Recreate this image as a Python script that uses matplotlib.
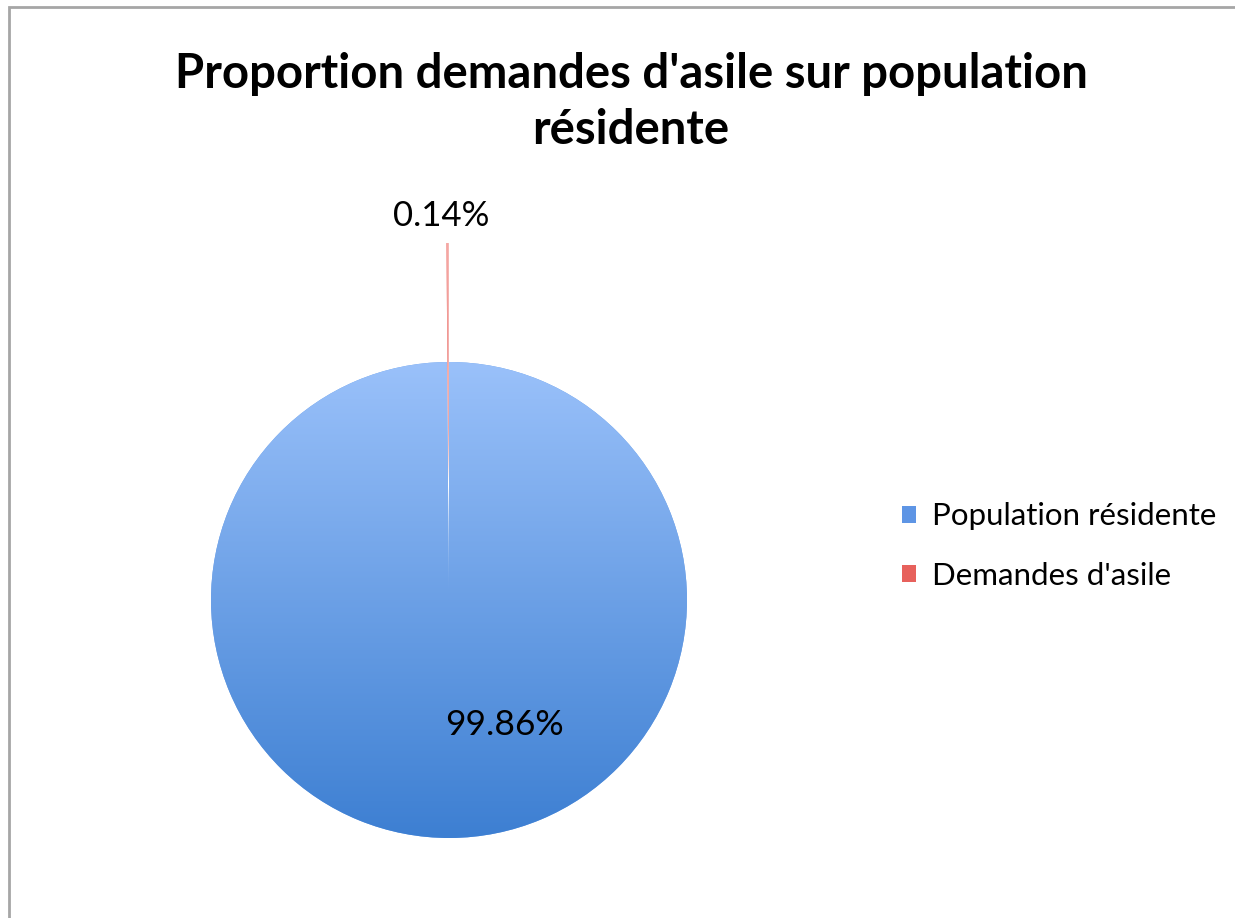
import numpy as np
import matplotlib.pyplot as plt
from matplotlib.colors import LinearSegmentedColormap
from matplotlib.patches import Rectangle

plt.rcParams['font.family'] = ['Lato', 'DejaVu Sans']

labels = ['Population résidente', "Demandes d'asile"]
shares = [99.86, 0.14]
pct_labels = ['99.86%', '0.14%']
title = "Proportion demandes d'asile sur population\nrésidente"

W, H = 1235, 918
fig = plt.figure(figsize=[W / 100, H / 100], dpi=100)

# pie centre and radius in pixels
cx, cy, r = 449, 600, 238
xlo, xhi, ylo, yhi = -1.2, 1.2, -1.2, 1.75
ax = fig.add_axes([(cx + xlo * r) / W, (H - cy + ylo * r) / H,
                   (xhi - xlo) * r / W, (yhi - ylo) * r / H])

wedges, _ = ax.pie(shares, startangle=90, counterclock=False,
                   explode=[0, 0.5], colors=['#6a9fe8', '#ee8a86'],
                   wedgeprops=dict(linewidth=0))
ax.set_xlim(xlo, xhi)
ax.set_ylim(ylo, yhi)
ax.set_aspect('equal')
ax.axis('off')

# vertical gradient in the blue slice
blues = LinearSegmentedColormap.from_list('b', ['#3d7fd2', '#9ac1fa'])
grad = np.linspace(0, 1, 256).reshape(-1, 1)
im = ax.imshow(grad, cmap=blues, origin='lower', extent=[-1, 1, -1, 1],
               aspect='auto', zorder=2)
im.set_clip_path(wedges[0])
reds = LinearSegmentedColormap.from_list('r', ['#e0524c', '#f6a8a4'])
im2 = ax.imshow(grad, cmap=reds, origin='lower', extent=[-1, 1, -0.5, 1.5],
                aspect='auto', zorder=2)
im2.set_clip_path(wedges[1])
ax.set_xlim(xlo, xhi)
ax.set_ylim(ylo, yhi)

ax.text(0.235, -0.525, pct_labels[0], fontsize=25.5, ha='center', va='center', zorder=5)
ax.text(-0.034, 1.615, pct_labels[1], fontsize=25, ha='center', va='center', zorder=5)

fig.text(631 / W, 1 - 102 / H, title, fontsize=34, fontweight='bold',
         ha='center', va='center', linespacing=1.32)

leg = fig.legend(wedges, labels, loc='center left',
                 bbox_to_anchor=(874 / W, 1 - 546 / H), frameon=False,
                 fontsize=22.5, handlelength=0.45, handleheight=0.45,
                 handletextpad=0.5, labelspacing=1.0)
leg.legend_handles[0].set_color('#5e95e5')
leg.legend_handles[1].set_color('#e7615c')

fig.add_artist(Rectangle((9 / W, -0.05), 1.1, 1.05 - 7 / H, transform=fig.transFigure,
                         fill=False, edgecolor='#a6a6a6', linewidth=2))

plt.savefig('out.png', dpi=100)
